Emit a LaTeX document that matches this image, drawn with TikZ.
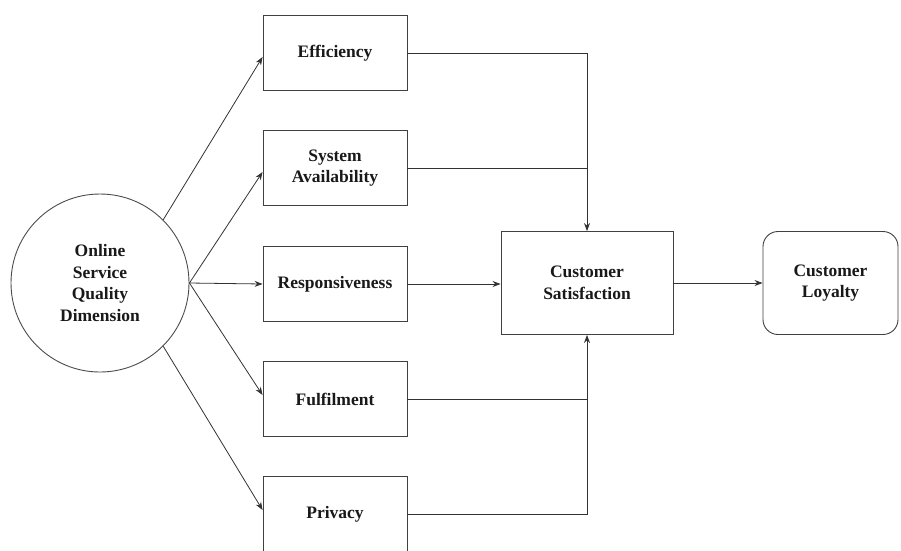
\documentclass[tikz,border=0pt]{standalone}
\usepackage{fontspec}
\setmainfont{Liberation Serif}
\usetikzlibrary{arrows.meta}
\begin{document}
\begin{tikzpicture}[x=1pt,y=-1pt,
  every node/.style={font=\fontsize{17.5}{21.5}\selectfont\bfseries, text=black!90, align=center},
  box/.style={draw=black!75, line width=0.9pt, minimum width=144pt, minimum height=75pt, inner sep=0pt},
  circ/.style={draw=black!70, line width=0.9pt, circle, minimum size=178pt, inner sep=0pt},
  conn/.style={draw=black!80, line width=0.8pt},
  arr/.style={conn, -{Stealth[length=8pt,width=6pt]}}]
\useasboundingbox[fill=white] (0,0) rectangle (901,550);
\node[circ] (osq) at (100,283) {Online\\Service\\Quality\\Dimension};
\node[box] (eff) at (335,53) {Efficiency};
\node[box] (sa) at (335,168) {System\\Availability};
\node[box] (resp) at (335,284) {Responsiveness};
\node[box] (ful) at (335,399) {Fulfilment};
\node[box] (priv) at (335,514) {Privacy};
\node[box, minimum width=172pt, minimum height=103pt] (cs) at (587,283) {Customer\\Satisfaction};
\node[box, rounded corners=15pt, minimum width=135pt, minimum height=103pt] (cl) at (830.5,283) {Customer\\Loyalty};
\draw[arr] (osq.45) -- ([yshift=-4pt]eff.west);
\draw[arr] (osq.east) -- ([yshift=-4pt]sa.west);
\draw[arr] (osq.east) -- (resp.west);
\draw[arr] (osq.east) -- ([yshift=4pt]ful.west);
\draw[arr] (osq.-45) -- ([yshift=4pt]priv.west);
\draw[arr] (eff.east) -| (cs.north);
\draw[conn] (sa.east) -- (sa.east -| cs.north);
\draw[arr] (resp.east) -- (resp.east -| cs.west);
\draw[arr] (priv.east) -| (cs.south);
\draw[conn] (ful.east) -- (ful.east -| cs.south);
\draw[arr] (cs.east) -- (cl.west);
\end{tikzpicture}
\end{document}
